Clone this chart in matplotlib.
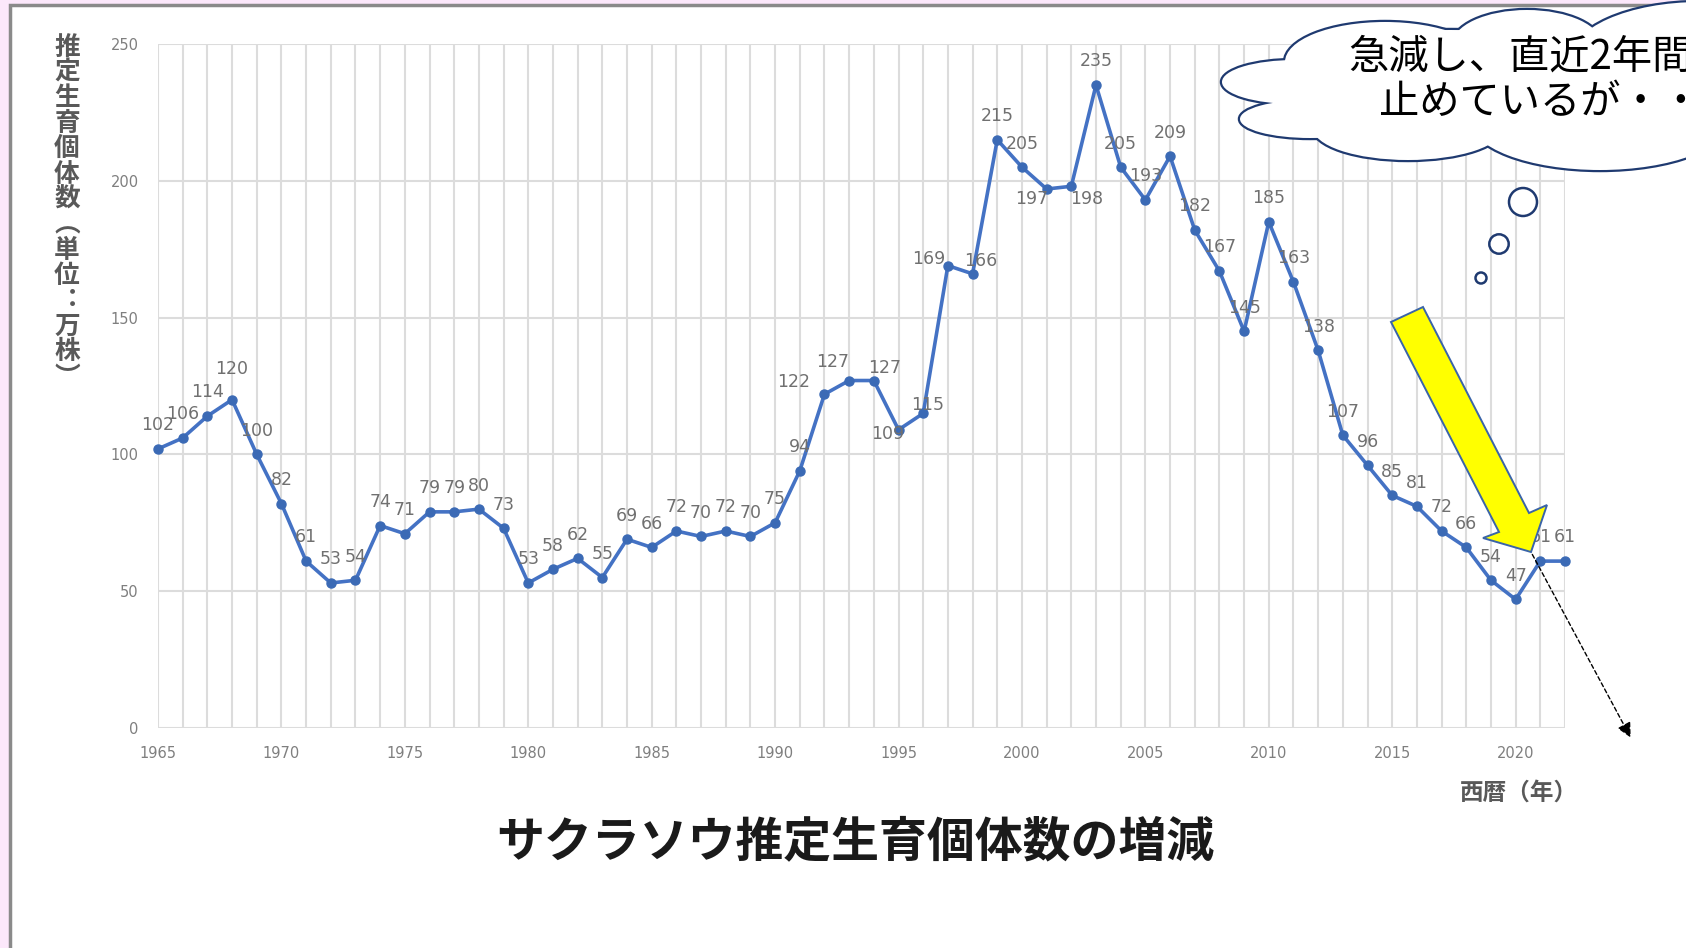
import numpy as np
import matplotlib
matplotlib.use("Agg")
import matplotlib.pyplot as plt
from matplotlib.patches import Ellipse, Circle, Polygon, Rectangle, FancyArrowPatch

plt.rcParams['font.family'] = ['Noto Sans CJK JP', 'DejaVu Sans']

# data
years = list(range(1965, 2023))
counts = [102, 106, 114, 120, 100, 82, 61, 53, 54, 74,
          71, 79, 79, 80, 73, 53, 58, 62, 55, 69,
          66, 72, 70, 72, 70, 75, 94, 122, 127, 127,
          109, 115, 169, 166, 215, 205, 197, 198, 235, 205,
          193, 209, 182, 167, 145, 185, 163, 138, 107, 96,
          85, 81, 72, 66, 54, 47, 61, 61]
x_ticks = list(range(1965, 2021, 5))
y_ticks = [0, 50, 100, 150, 200, 250]

title = "サクラソウ推定生育個体数の増減"
ylabel_chars = "推定生育個体数︵単位︓万株︶"
xlabel = "西暦（年）"
cloud_lines = ["急減し、直近2年間は減少を", "止めているが・・・"]

# label placement (offset in points), default is straight above the point
label_default = (0, 17)
label_nudge = {1968: (0, 22), 1992: (-22, 9), 1993: (-12, 13), 1994: (8, 9),
               1995: (-8, -3), 1996: (3, 6), 1997: (-14, 5), 1998: (6, 9),
               2001: (-11, -7), 2002: (11, -9)}

W, H = 1686, 948
fig = plt.figure(figsize=(W / 100, H / 100), dpi=100)
fig.patch.set_facecolor('#FCE8FB')

# slide background (white sheet with grey edge)
bg = fig.add_axes([0, 0, 1, 1], zorder=-5)
bg.set_xlim(0, W)
bg.set_ylim(H, 0)
bg.axis('off')
bg.add_patch(Rectangle((10, 5), W + 50, H + 50, fc='white', ec='#8a8a8a', lw=2.5))

# chart
ax = fig.add_axes([158 / W, 1 - 728 / H, (1565 - 158) / W, (728 - 44) / H], zorder=1)
ax.set_facecolor('none')
ax.plot(years, counts, color='#4472C4', lw=2.6, marker='o', ms=6.5,
        mfc='#3B6AB5', mec='#3B6AB5', clip_on=False, zorder=3)
ax.set_xlim(1965, 2022)
ax.set_ylim(0, 250)
ax.set_xticks(x_ticks)
ax.set_xticks(years, minor=True)
ax.set_yticks(y_ticks)
ax.grid(which='both', axis='x', color='#DCDCDC', lw=1.5)
ax.grid(which='major', axis='y', color='#DCDCDC', lw=1.5)
ax.set_axisbelow(True)
for s in ax.spines.values():
    s.set_visible(False)
ax.tick_params(which='both', length=0)
ax.tick_params(axis='x', pad=13, labelsize=10.5, labelcolor='#7F7F7F')
ax.tick_params(axis='y', pad=14, labelsize=10.5, labelcolor='#7F7F7F')
for lab in ax.get_xticklabels() + ax.get_yticklabels():
    lab.set_family('DejaVu Sans')

for yr, v in zip(years, counts):
    off = label_nudge.get(yr, label_default)
    ax.annotate(str(v), (yr, v), xytext=off, textcoords='offset points',
                ha='center', va='center', fontsize=12.5, color='#707070',
                family='DejaVu Sans', zorder=4)

# y label written vertically, one char per cell
for i, ch in enumerate(ylabel_chars):
    fig.text(67 / W, 1 - (47 + 25.4 * i) / H, ch, ha='center', va='center',
             fontsize=18.5, weight='bold', color='#595959')

fig.text(1578 / W, 1 - 793 / H, xlabel, ha='right', va='center',
         fontsize=17, weight='bold', color='#595959')
fig.text(855 / W, 1 - 842 / H, title, ha='center', va='center',
         fontsize=34.5, weight='bold', color='#1A1A1A')

# overlay: cloud callout, yellow arrow, dashed arrow
ov = fig.add_axes([0, 0, 1, 1], zorder=5)
ov.set_xlim(0, W)
ov.set_ylim(H, 0)
ov.axis('off')

navy = '#1F3A70'
lobes = [(1385, 62, 200, 80), (1527, 45, 150, 70), (1700, 60, 260, 116),
         (1295, 82, 146, 44), (1310, 119, 140, 38), (1408, 128, 190, 64),
         (1600, 120, 260, 100), (1450, 85, 340, 110), (1660, 90, 200, 120)]
for cx, cy, w, h in lobes:
    ov.add_patch(Ellipse((cx, cy), w, h, fc='white', ec=navy, lw=3.2, zorder=1))
for cx, cy, w, h in lobes:
    ov.add_patch(Ellipse((cx, cy), w, h, fc='white', ec='none', zorder=2))
ov.text(1348, 57, cloud_lines[0], ha='left', va='center', fontsize=29, color='black', zorder=3)
ov.text(1379, 103, cloud_lines[1], ha='left', va='center', fontsize=29, color='black', zorder=3)

for cx, cy, r in [(1523, 202, 14), (1499, 244, 9.7), (1481, 278, 5.5)]:
    ov.add_patch(Circle((cx, cy), r, fc='white', ec=navy, lw=1.8, zorder=3))

arrow_pts = [(1391, 322), (1499, 532), (1483, 538), (1531, 552),
             (1547, 505), (1529, 513), (1423, 307)]
ov.add_patch(Polygon(arrow_pts, closed=True, fc='#FFFF00', ec='#3A64A8', lw=1.4, zorder=4))

ov.add_patch(FancyArrowPatch((1531, 552), (1632, 740), arrowstyle='-|>', mutation_scale=22,
                             color='black', lw=1.0, linestyle=(0, (3, 2)), zorder=4))

fig.savefig('out.png', dpi=100)
